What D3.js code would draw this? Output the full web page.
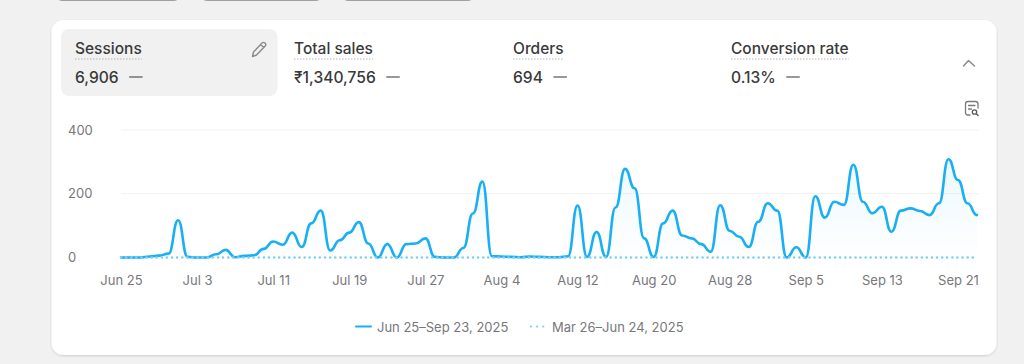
<!DOCTYPE html>
<html>
<head>
<meta charset="utf-8">
<script src="https://cdn.jsdelivr.net/npm/d3@7"></script>
<style>
  html, body { margin: 0; padding: 0; background: #f1f1f1; overflow: hidden; }
  svg { display: block; font-family: Inter, "Noto Sans", sans-serif; }
</style>
</head>
<body>
<div id="chart"></div>
<script>
// sessions per day, Jun 25 -> Sep 23
const sessions = [
  0, 0, 0, 3, 6, 12, 117, 2, 0, 0,
  10, 24, 1, 5, 7, 27, 50, 40, 78, 33,
  107, 147, 22, 54, 78, 111, 44, 0, 42, 0,
  42, 44, 60, 2, 0, 0, 30, 138, 238, 4,
  3, 2, 1, 3, 2, 1, 1, 4, 163, 2,
  80, 2, 157, 278, 217, 60, 2, 107, 147, 69,
  60, 42, 18, 164, 84, 65, 33, 112, 170, 147,
  0, 32, 0, 192, 125, 175, 165, 291, 175, 139,
  159, 81, 147, 154, 146, 133, 170, 308, 243, 170,
  133
];
const previous = new Array(sessions.length).fill(0);
const xTickLabels = ["Jun 25", "Jul 3", "Jul 11", "Jul 19", "Jul 27", "Aug 4", "Aug 12", "Aug 20", "Aug 28", "Sep 5", "Sep 13", "Sep 21"];
const yTicks = [0, 200, 400];
const metricNames = ["Sessions", "Total sales", "Orders", "Conversion rate"];
const metricValues = ["6,906", "₹1,340,756", "694", "0.13%"];
const metricLeft = [75, 294, 513, 731];
const legendLabels = ["Jun 25–Sep 23, 2025", "Mar 26–Jun 24, 2025"];

const WIDTH = 1024, HEIGHT = 364;
const BLUE = "#1aaff2", LIGHT_BLUE = "#7ccff6", AXIS_TEXT = "#77777c";

const parseDay = d3.utcParse("%b %d %Y");
const start = parseDay("Jun 25 2025");
const days = sessions.map((d, i) => d3.utcDay.offset(start, i));

const svg = d3.select("#chart").append("svg")
  .attr("width", WIDTH)
  .attr("height", HEIGHT);

// gradient under the line
const defs = svg.append("defs");
const grad = defs.append("linearGradient")
  .attr("id", "area-fill").attr("x1", 0).attr("x2", 0).attr("y1", 0).attr("y2", 1);
grad.append("stop").attr("offset", "0%").attr("stop-color", BLUE).attr("stop-opacity", 0.08);
grad.append("stop").attr("offset", "100%").attr("stop-color", BLUE).attr("stop-opacity", 0.005);
const shadow = defs.append("filter").attr("id", "card-shadow")
  .attr("x", "-2%").attr("y", "-2%").attr("width", "104%").attr("height", "106%");
shadow.append("feDropShadow").attr("dx", 0).attr("dy", 1)
  .attr("stdDeviation", 0.8).attr("flood-color", "#000").attr("flood-opacity", 0.16);

// the three buttons cut off by the top of the picture
svg.append("g").selectAll("rect")
  .data([[56, 124], [201, 121], [342, 132]])
  .join("rect")
  .attr("x", d => d[0]).attr("y", -20)
  .attr("width", d => d[1]).attr("height", 20.5)
  .attr("rx", 6)
  .attr("fill", "#fff").attr("stroke", "#a0a0a0").attr("stroke-width", 1);

// card
svg.append("rect")
  .attr("x", 51.5).attr("y", 20)
  .attr("width", 945).attr("height", 335)
  .attr("rx", 12)
  .attr("fill", "#fff")
  .attr("filter", "url(#card-shadow)");

svg.append("rect")
  .attr("x", 61).attr("y", 29)
  .attr("width", 216.5).attr("height", 67)
  .attr("rx", 8)
  .attr("fill", "#f1f1f1");

// metric tiles
const tiles = svg.append("g").selectAll("g")
  .data(metricNames)
  .join("g")
  .attr("transform", (d, i) => `translate(${metricLeft[i]},0)`);

const names = tiles.append("text")
  .attr("y", 54)
  .attr("font-size", 15.5).attr("font-weight", 550).attr("fill", "#3a3a3a")
  .text(d => d);

const values = tiles.append("text")
  .attr("y", 83)
  .attr("font-size", 15.6).attr("font-weight", 550).attr("fill", "#3a3a3a")
  .text((d, i) => metricValues[i]);

tiles.each(function (d, i) {
  const g = d3.select(this);
  const nameW = names.nodes()[i].getComputedTextLength();
  const valueW = values.nodes()[i].getComputedTextLength();
  g.append("line")
    .attr("x1", 0).attr("x2", nameW)
    .attr("y1", 59).attr("y2", 59)
    .attr("stroke", "#b5b5b5").attr("stroke-width", 1).attr("stroke-dasharray", "1.5 1.5");
  g.append("line")
    .attr("x1", valueW + 10.5).attr("x2", valueW + 24)
    .attr("y1", 77).attr("y2", 77)
    .attr("stroke", "#616161").attr("stroke-width", 1.3);
});

// icons
svg.append("path")
  .attr("transform", "translate(251,41)")
  .attr("d", "M1.5 15.5 L2.5 11 L11 2 Q12.5 0.8 14 2 Q15.5 3.5 14.2 5 L5.5 14 Z M9.5 3.5 L12.8 6.6")
  .attr("fill", "none").attr("stroke", "#8a8a8a").attr("stroke-width", 1.4).attr("stroke-linejoin", "round");
svg.append("path")
  .attr("d", "M963.5 66 L968.5 60.5 L974.5 66")
  .attr("fill", "none").attr("stroke", "#8a8a8a").attr("stroke-width", 1.5).attr("stroke-linecap", "round").attr("stroke-linejoin", "round");
svg.append("path")
  .attr("d", "M970 115 H968 Q965.5 115 965.5 112.5 V104 Q965.5 101.5 968 101.5 H975.5 Q978 101.5 978 104 V108 M968.5 105.5 H975 M968.5 109 H971.5")
  .attr("fill", "none").attr("stroke", "#7a7a7a").attr("stroke-width", 1.3).attr("stroke-linecap", "round");
svg.append("circle").attr("cx", 974.5).attr("cy", 112).attr("r", 2.2)
  .attr("fill", "none").attr("stroke", "#5a5a5a").attr("stroke-width", 1.3);
svg.append("line").attr("x1", 976.3).attr("y1", 113.8).attr("x2", 978.5).attr("y2", 116)
  .attr("stroke", "#5a5a5a").attr("stroke-width", 1.3);

// scales
const x = d3.scaleUtc()
  .domain([days[0], days[days.length - 1]])
  .range([121, 977]);
const y = d3.scaleLinear().domain([0, 400]).range([257.5, 130]);

// axes
const xAxis = d3.axisBottom(x)
  .tickValues(xTickLabels.map(d => parseDay(d + " 2025")))
  .tickFormat(d3.utcFormat("%b %-d"))
  .tickSize(0).tickPadding(0);
const xAxisG = svg.append("g").attr("transform", "translate(0,275.5)").call(xAxis);
xAxisG.select(".domain").remove();
xAxisG.selectAll("text")
  .attr("font-size", 13).attr("fill", AXIS_TEXT).attr("font-family", "Inter");

const yAxis = d3.axisLeft(y).tickValues(yTicks).tickFormat(d3.format("d")).tickSize(0).tickPadding(0);
const yAxisG = svg.append("g").attr("transform", "translate(68,0)").call(yAxis);
yAxisG.select(".domain").remove();
yAxisG.selectAll("text")
  .attr("text-anchor", "start")
  .attr("font-size", 13).attr("fill", AXIS_TEXT).attr("font-family", "Inter");

// grid
svg.append("g").selectAll("line")
  .data(yTicks.filter(d => d > 0))
  .join("line")
  .attr("x1", 121).attr("x2", 979)
  .attr("y1", d => y(d)).attr("y2", d => y(d))
  .attr("stroke", "#f1f1f1").attr("stroke-width", 1);

// horizontal tangent at every day gives the shoulders seen in the original
const curve = d3.curveBumpX;
const area = d3.area()
  .x((d, i) => x(days[i]))
  .y0(y(0))
  .y1(d => y(d))
  .curve(curve);
const line = d3.line()
  .x((d, i) => x(days[i]))
  .y(d => y(d))
  .curve(curve);

svg.append("path")
  .attr("d", area(sessions))
  .attr("fill", "url(#area-fill)");

svg.append("path")
  .attr("d", line(sessions))
  .attr("fill", "none")
  .attr("stroke", BLUE).attr("stroke-width", 2.6)
  .attr("stroke-linejoin", "round").attr("stroke-linecap", "round");

// previous period drawn on top, its dots stay visible where sessions are above zero
svg.append("path")
  .attr("d", line(previous))
  .attr("fill", "none")
  .attr("stroke", LIGHT_BLUE).attr("stroke-width", 2.5)
  .attr("stroke-linecap", "round").attr("stroke-dasharray", "0.1 5");

// legend
const legend = svg.append("g");
legend.append("line")
  .attr("x1", 356).attr("x2", 371).attr("y1", 326.5).attr("y2", 326.5)
  .attr("stroke", BLUE).attr("stroke-width", 2).attr("stroke-linecap", "round");
legend.append("line")
  .attr("x1", 531).attr("x2", 545).attr("y1", 326.5).attr("y2", 326.5)
  .attr("stroke", LIGHT_BLUE).attr("stroke-width", 2.2)
  .attr("stroke-linecap", "round").attr("stroke-dasharray", "0.1 6");
legend.selectAll("text")
  .data(legendLabels)
  .join("text")
  .attr("x", (d, i) => [377, 552][i])
  .attr("y", 331.5)
  .attr("font-size", 13).attr("fill", AXIS_TEXT)
  .text(d => d);
</script>
</body>
</html>
